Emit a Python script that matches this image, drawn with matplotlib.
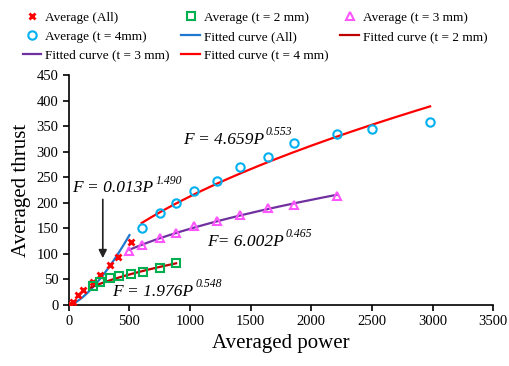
import numpy as np
import matplotlib
matplotlib.use("Agg")
import matplotlib.pyplot as plt

plt.rcParams["font.family"] = ["Liberation Serif", "DejaVu Serif"]

# --- data ---
p_all = [10, 33, 74, 116, 198, 256, 338, 405, 512]
f_all = [2, 6, 20, 29, 45, 59, 78, 94, 124]

p_t2 = [198, 256, 338, 413, 512, 611, 751, 885]
f_t2 = [37, 44, 52, 56, 60, 65, 72, 82]

p_t3 = [500, 600, 750, 880, 1030, 1220, 1410, 1640, 1860, 2210]
f_t3 = [105, 117, 130, 140, 155, 165, 175, 190, 195, 213]

p_t4 = [600, 750, 880, 1030, 1220, 1410, 1640, 1860, 2210, 2500, 2980]
f_t4 = [150, 180, 200, 222, 242, 270, 289, 317, 335, 345, 358]

# fitted power laws F = a * P^b, as printed on the chart
fit_coef = {"all": (0.013, 1.490), "t2": (1.976, 0.548),
            "t3": (6.002, 0.465), "t4": (4.659, 0.553)}
fit_range = {"all": (0, 500), "t2": (170, 885), "t3": (500, 2210), "t4": (600, 2980)}

fig = plt.figure(figsize=(5.1, 3.66), dpi=100)
ax = fig.add_axes([0.135, 0.167, 0.832, 0.628])


def fitted(key):
    a, b = fit_coef[key]
    lo, hi = fit_range[key]
    p = np.linspace(lo, hi, 200)
    return p, a * p ** b


def equation(x, y, base, power):
    # italic base text plus a smaller italic exponent hung off its right edge
    t = ax.text(x, y, base, fontsize=12.5, style="italic", va="center", ha="left")
    ax.annotate(power, xy=(1, 0.62), xycoords=t, xytext=(1.5, 0), textcoords="offset points",
                fontsize=8.5, style="italic", va="bottom", ha="left")


# fitted curves
c_all, = ax.plot(*fitted("all"), color="#1f77d0", lw=1.6, zorder=2)
c_t2, = ax.plot(*fitted("t2"), color="#c00000", lw=1.6, zorder=2)
c_t3, = ax.plot(*fitted("t3"), color="#7030a0", lw=1.6, zorder=2)
c_t4, = ax.plot(*fitted("t4"), color="#ff0000", lw=1.6, zorder=2)

# averaged points
m_all, = ax.plot(p_all, f_all, ls="none", marker="x", ms=5, mew=2, color="#ff0000", zorder=3)
m_t2, = ax.plot(p_t2, f_t2, ls="none", marker="s", ms=5.5, mew=1.5, mfc="none", mec="#00b050", zorder=3)
m_t3, = ax.plot(p_t3, f_t3, ls="none", marker="^", ms=6, mew=1.5, mfc="none", mec="#ff55ff", zorder=3)
m_t4, = ax.plot(p_t4, f_t4, ls="none", marker="o", ms=6, mew=1.5, mfc="none", mec="#00b0f0", zorder=3)

ax.set_xlim(0, 3500)
ax.set_ylim(0, 450)
ax.set_xticks(np.arange(0, 3501, 500))
ax.set_yticks(np.arange(0, 451, 50))
ax.spines["top"].set_visible(False)
ax.spines["right"].set_visible(False)
for s in ("left", "bottom"):
    ax.spines[s].set_linewidth(1.2)
ax.tick_params(direction="out", length=4, width=1.2, labelsize=10.5)
ax.set_xlabel("Averaged power", fontsize=15, labelpad=4)
ax.set_ylabel("Averaged thrust", fontsize=15, labelpad=4)

# equations
equation(25, 228, "F = 0.013P", "1.490")
equation(940, 322, "F = 4.659P", "0.553")
equation(1140, 124, "F= 6.002P", "0.465")
equation(360, 25, "F = 1.976P", "0.548")
ax.annotate("", xy=(280, 86), xytext=(280, 212),
            arrowprops=dict(arrowstyle="-|>", color="#222222", lw=1.2, mutation_scale=12))

# legend laid out in rows like the original (matplotlib fills by column)
handles = [m_all, m_t4, c_t3, m_t2, c_all, c_t4, m_t3, c_t2]
labels = ["Average (All)", "Average (t = 4mm)", "Fitted curve (t = 3 mm)",
          "Average (t = 2 mm)", "Fitted curve (All)", "Fitted curve (t = 4 mm)",
          "Average (t = 3 mm)", "Fitted curve (t = 2 mm)"]
fig.legend(handles, labels, ncol=3, loc="upper center", bbox_to_anchor=(0.5, 1.0),
           frameon=False, fontsize=9.5, handlelength=1.4, handletextpad=0.3,
           columnspacing=0.9, labelspacing=0.5)

fig.savefig("out.png", dpi=100)
plt.close(fig)
